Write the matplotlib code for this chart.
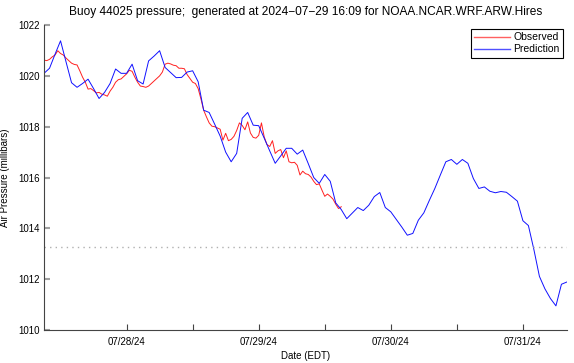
import numpy as np
import pandas as pd
import matplotlib
matplotlib.use("Agg")
import matplotlib.pyplot as plt
import matplotlib.dates as mdates

plt.rcParams['font.family'] = ['Liberation Sans', 'DejaVu Sans']

start = pd.Timestamp('2024-07-27 09:00')

# model prediction, hourly from 07/27 09:00
pred_mb = [1020.10, 1020.30, 1020.85, 1021.38, 1020.55, 1019.73, 1019.55, 1019.70,
           1019.87, 1019.50, 1019.11, 1019.35, 1019.70, 1020.27, 1020.10, 1020.10,
           1020.46, 1019.81, 1019.68, 1020.59, 1020.78, 1020.99, 1020.33, 1020.13,
           1019.93, 1019.94, 1020.15, 1020.20, 1019.77, 1018.65, 1018.56, 1018.10,
           1017.63, 1017.00, 1016.62, 1016.95, 1018.33, 1018.56, 1018.06, 1018.04,
           1017.55, 1017.05, 1016.56, 1016.85, 1017.15, 1017.15, 1016.92, 1017.08,
           1016.55, 1016.00, 1015.77, 1016.12, 1015.85, 1015.00, 1014.74, 1014.38,
           1014.60, 1014.82, 1014.70, 1014.91, 1015.25, 1015.41, 1014.82, 1014.65,
           1014.35, 1014.05, 1013.73, 1013.80, 1014.32, 1014.61, 1015.10, 1015.57,
           1016.10, 1016.62, 1016.71, 1016.52, 1016.71, 1016.56, 1015.96, 1015.57,
           1015.63, 1015.46, 1015.40, 1015.45, 1015.42, 1015.25, 1015.07, 1014.30,
           1014.11, 1013.16, 1012.11, 1011.62, 1011.24, 1010.95, 1011.80, 1011.89]

# buoy observations, half-hourly from 07/27 09:00
obs_mb = [1020.62, 1020.60, 1020.65, 1020.75, 1020.82, 1020.99, 1020.88, 1020.82,
          1020.70, 1020.60, 1020.50, 1020.45, 1020.43, 1020.20, 1019.95, 1019.75,
          1019.48, 1019.50, 1019.42, 1019.33, 1019.35, 1019.28, 1019.25, 1019.20,
          1019.40, 1019.55, 1019.75, 1019.85, 1019.88, 1019.98, 1020.08, 1020.22,
          1020.18, 1019.95, 1019.75, 1019.60, 1019.58, 1019.55, 1019.60, 1019.70,
          1019.80, 1019.90, 1020.00, 1020.15, 1020.46, 1020.50, 1020.47, 1020.42,
          1020.40, 1020.30, 1020.30, 1020.28, 1020.05, 1019.90, 1019.75, 1019.70,
          1019.50, 1019.10, 1018.65, 1018.39, 1018.15, 1018.02, 1018.00, 1017.95,
          1017.90, 1017.47, 1017.74, 1017.45, 1017.50, 1017.62, 1017.85, 1018.15,
          1018.05, 1017.88, 1018.19, 1017.75, 1017.58, 1017.55, 1017.66, 1018.15,
          1017.60, 1017.30, 1017.22, 1017.45, 1016.95, 1017.05, 1017.10, 1016.78,
          1017.05, 1016.62, 1016.58, 1016.60, 1016.48, 1016.10, 1016.25, 1016.15,
          1016.12, 1016.02, 1015.85, 1015.72, 1015.75, 1015.50, 1015.26, 1015.35,
          1015.26, 1015.15, 1014.95, 1014.78, 1014.85]

std_atm = 1013.25

# ticks every 12 h from 07/28, labels on the days only
tick_times = pd.date_range('2024-07-28 00:00', '2024-07-31 00:00', freq='12h')
tick_labels = [t.strftime('%m/%d/%y') if t.hour == 0 else '' for t in tick_times]

pred_t = pd.date_range(start, periods=len(pred_mb), freq='1h')
obs_t = pd.date_range(start, periods=len(obs_mb), freq='30min')

fig = plt.figure(figsize=(5.74, 3.63), dpi=100)
ax = fig.add_axes([0.0767, 0.0909, 0.911, 0.8401])

ax.plot(obs_t, obs_mb, color='#ff2020', lw=0.7, label='Observed')
ax.plot(pred_t, pred_mb, color='#1010ff', lw=0.7, label='Prediction')
ax.axhline(std_atm, color='#b0b0b0', lw=1.0, ls=(0, (1, 3)))

ax.set_xlim(pred_t[0], pred_t[-1])
ax.set_ylim(1010, 1022)
ax.set_yticks(np.arange(1010, 1023, 2))

ax.set_xticks(mdates.date2num(tick_times))
ax.set_xticklabels(tick_labels)

for s in ['top', 'right']:
    ax.spines[s].set_visible(False)
for s in ['left', 'bottom']:
    ax.spines[s].set_color('#444444')
    ax.spines[s].set_linewidth(0.8)
ax.tick_params(axis='x', direction='in', length=4, color='#444444', labelsize=7, pad=5)
ax.tick_params(axis='y', direction='in', length=4, color='#a0a0a0', width=1.5, labelsize=7, pad=3)

ax.set_title('Buoy 44025 pressure;  generated at 2024\u221207\u221229 16:09 for NOAA.NCAR.WRF.ARW.Hires',
             fontsize=8.6, pad=7)
ax.set_xlabel('Date (EDT)', fontsize=7, labelpad=3)
ax.set_ylabel('Air Pressure (millibars)', fontsize=7, labelpad=6)

leg = ax.legend(loc='upper right', fontsize=7.5, fancybox=False, framealpha=1,
                edgecolor='black', borderpad=0.3, labelspacing=0.2, handlelength=3.5,
                handletextpad=0.3, borderaxespad=0.4)
leg.get_frame().set_linewidth(0.8)
for line, c in zip(leg.get_lines(), ['#ff6060', '#5050ff']):
    line.set_color(c)
    line.set_linewidth(1.0)

fig.savefig('out.png', dpi=100)
